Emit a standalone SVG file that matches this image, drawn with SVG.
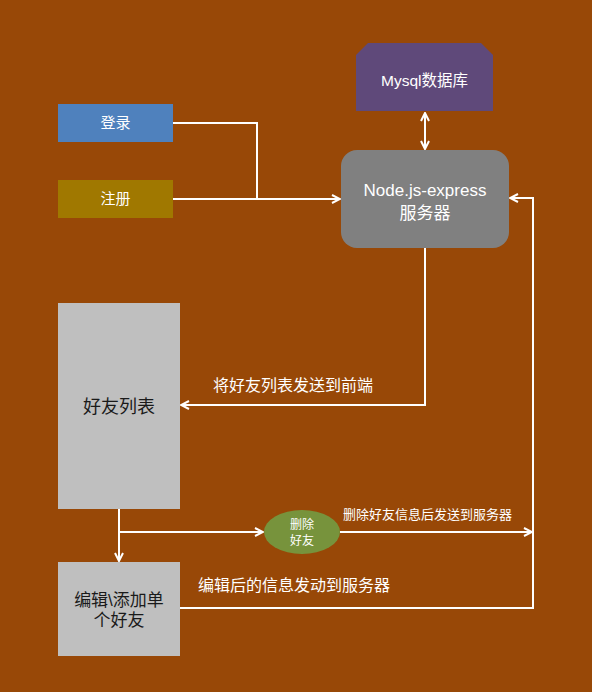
<svg xmlns="http://www.w3.org/2000/svg" width="592" height="692" viewBox="0 0 592 692">
<style>
text{font-family:"Liberation Sans","Noto Sans CJK SC",sans-serif;}
.w{fill:#ffffff;}
.d{fill:#1a1a1a;}
.ln{fill:none;stroke:#ffffff;stroke-width:2;}
</style>
<defs>
<marker id="ah" viewBox="0 0 10 10" refX="9" refY="5" markerWidth="10" markerHeight="10" markerUnits="userSpaceOnUse" orient="auto-start-reverse">
<path d="M1,1 L9,5 L1,9" fill="none" stroke="#ffffff" stroke-width="2"/>
</marker>
</defs>
<rect x="0" y="0" width="592" height="692" fill="#984807"/>
<g id="connectors">
<polyline class="ln" points="173,123 257,123 257,199"/>
<polyline class="ln" points="173,199 340,199" marker-end="url(#ah)"/>
<line class="ln" x1="425" y1="113" x2="425" y2="149" marker-start="url(#ah)" marker-end="url(#ah)"/>
<polyline class="ln" points="425,248 425,405 181,405" marker-end="url(#ah)"/>
<line class="ln" x1="119" y1="509" x2="119" y2="561" marker-end="url(#ah)"/>
<polyline class="ln" points="119,532 263,532" marker-end="url(#ah)"/>
<line class="ln" x1="340" y1="532" x2="532" y2="532" marker-end="url(#ah)"/>
<polyline class="ln" points="180,608 533,608 533,198 510,198" marker-end="url(#ah)"/>
<text class="w" x="213" y="391" font-size="16">将好友列表发送到前端</text>
<text class="w" x="343" y="519" font-size="13">删除好友信息后发送到服务器</text>
<text class="w" x="198" y="591" font-size="16">编辑后的信息发动到服务器</text>
</g>
<g id="mysql">
<path d="M368,43 L481,43 L493,55 L493,111 L356,111 L356,55 Z" fill="#5F497A"/>
<text class="w" x="424.5" y="86" font-size="15.5" text-anchor="middle">Mysql数据库</text>
</g>
<g id="server">
<rect x="341" y="150" width="168" height="98" rx="16" fill="#808080"/>
<text class="w" x="425" y="196" font-size="17" text-anchor="middle">Node.js-express</text>
<text class="w" x="425" y="219" font-size="17" text-anchor="middle">服务器</text>
</g>
<g id="login">
<rect x="58" y="104" width="115" height="38" fill="#4F81BD"/>
<text class="w" x="115.5" y="128" font-size="15" text-anchor="middle">登录</text>
</g>
<g id="register">
<rect x="58" y="180" width="115" height="38" fill="#A07800"/>
<text class="w" x="115.5" y="204" font-size="15" text-anchor="middle">注册</text>
</g>
<g id="friendlist">
<rect x="58" y="303" width="122" height="206" fill="#BFBFBF"/>
<text class="d" x="119" y="413" font-size="18" text-anchor="middle">好友列表</text>
</g>
<g id="delete">
<ellipse cx="302" cy="532" rx="38" ry="22" fill="#77933C"/>
<text class="w" x="302" y="529" font-size="12" text-anchor="middle">删除</text>
<text class="w" x="302" y="545" font-size="12" text-anchor="middle">好友</text>
</g>
<g id="edit">
<rect x="58" y="562" width="122" height="94" fill="#BFBFBF"/>
<text class="d" x="119" y="606" font-size="17" text-anchor="middle">编辑\添加单</text>
<text class="d" x="119" y="626" font-size="17" text-anchor="middle">个好友</text>
</g>
</svg>
